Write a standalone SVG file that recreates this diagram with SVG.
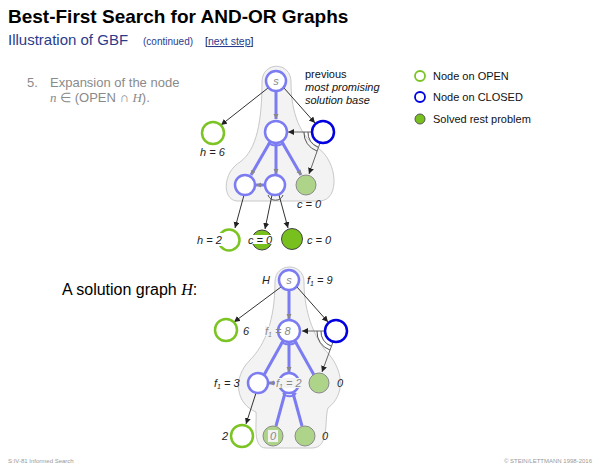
<svg xmlns="http://www.w3.org/2000/svg" width="600" height="467" viewBox="0 0 600 467">
<style>
text{font-family:"Liberation Sans",Arial,sans-serif}
.blob{fill:#f3f3f3;stroke:#c8c8c8;stroke-width:1}
.lb{fill:#fff;stroke:#7b7bf2;stroke-width:2.5}
.db{fill:#fff;stroke:#0000e0;stroke-width:2.5}
.op{fill:#fff;stroke:#7cc424;stroke-width:2.5}
.sl{fill:#aed48a;stroke:#8a8a8a;stroke-width:1}
.sf{fill:#78c01e;stroke:#444;stroke-width:1}
.be{stroke:#7b7bf2;stroke-width:3;fill:none}
.ba{stroke:#7b7bf2;stroke-width:3;fill:none;marker-end:url(#ga)}
.ta{stroke:#333;stroke-width:1;fill:none;marker-end:url(#ka)}
.tg{stroke:#666;stroke-width:1;fill:none;marker-end:url(#ka)}
.arc{stroke:#555;stroke-width:1;fill:none}
.lab{font-size:11px;font-style:italic;fill:#222}
.glab{font-size:11px;font-style:italic;fill:#888}
</style>
<defs>
<marker id="ka" markerUnits="userSpaceOnUse" markerWidth="8" markerHeight="8" refX="6" refY="3" orient="auto"><path d="M0,0 L6,3 L0,6 Z" fill="#222"/></marker>
<marker id="ga" markerUnits="userSpaceOnUse" markerWidth="8" markerHeight="8" refX="5" refY="2.5" orient="auto"><path d="M0,0 L5,2.5 L0,5 Z" fill="#888"/></marker>
</defs>

<!-- header -->
<text x="8" y="23" font-size="19" font-weight="bold" fill="#000">Best-First Search for AND-OR Graphs</text>
<text x="8" y="45" font-size="15" fill="#2b3b8c">Illustration of GBF</text>
<text x="143" y="45" font-size="10" fill="#2b3b8c">(continued)</text>
<text x="205" y="45" font-size="10.5" fill="#111">[<tspan text-decoration="underline" fill="#2b3b8c">next step</tspan>]</text>

<text x="27" y="87" font-size="13" fill="#8a8a8a">5.</text>
<text x="50" y="87" font-size="13" fill="#8a8a8a">Expansion of the node</text>
<text x="50" y="102" font-size="13" fill="#8a8a8a"><tspan font-family="Liberation Serif" font-style="italic">n</tspan> ∈ (OPEN ∩ <tspan font-family="Liberation Serif" font-style="italic">H</tspan>).</text>

<text x="62" y="295" font-size="16" fill="#000">A solution graph <tspan font-family="Liberation Serif" font-style="italic">H</tspan>:</text>

<!-- legend -->
<g id="legend">
<circle cx="420" cy="76" r="5" fill="#fff" stroke="#7cc424" stroke-width="1.8"/>
<text x="433" y="80" font-size="11" fill="#111">Node on OPEN</text>
<circle cx="420" cy="97" r="5" fill="#fff" stroke="#0000e0" stroke-width="1.8"/>
<text x="433" y="101" font-size="11" fill="#111">Node on CLOSED</text>
<circle cx="420" cy="119" r="5" fill="#78c01e" stroke="#555" stroke-width="1"/>
<text x="433" y="123" font-size="11" fill="#111">Solved rest problem</text>
</g>

<text x="305" y="78" font-size="11" fill="#111">previous</text>
<text x="305" y="91" font-size="11" font-style="italic" fill="#111">most promising</text>
<text x="305" y="104" font-size="11" font-style="italic" fill="#111">solution base</text>

<!-- blobs -->
<path class="blob" d="M262,82 C262,61 291,61 291,82 C291,105 296,133 318,148 C338,162 340,200 320,201 L238,201 C222,201 222,173 240,162 C257,150 262,120 262,82 Z"/>
<path class="blob" d="M275,282 C275,262 304,262 304,282 C304,305 310,330 325,350 C345,370 345,395 328,408 C324,420 330,448 312,448 L266,448 C252,448 257,422 256,412 C236,404 232,378 250,360 C265,345 275,320 275,282 Z"/>

<!-- connectors -->
<g id="connectors">
<line class="ba" x1="276" y1="91" x2="276" y2="119"/>
<line class="ta" x1="268" y1="88" x2="221" y2="125"/>
<line class="ta" x1="284" y1="88" x2="315" y2="123"/>
<line class="tg" x1="312" y1="132" x2="288" y2="132"/>
<line class="tg" x1="320" y1="143" x2="309" y2="174"/>
<path class="arc" d="M318,147 A15,15 0 0 1 308,132"/>
<path class="arc" d="M317,151 A19,19 0 0 1 304,132"/>
<line class="ba" x1="270" y1="142" x2="251" y2="175"/>
<line class="ba" x1="276" y1="143" x2="276" y2="174"/>
<line class="ba" x1="282" y1="142" x2="301" y2="175"/>
<path d="M284,143 A14,14 0 0 1 268,143" stroke="#7b7bf2" stroke-width="2" fill="none"/>
<line class="ba" x1="265" y1="185" x2="256" y2="185"/>
<line class="ta" x1="244" y1="195" x2="235" y2="228"/>
<line class="ta" x1="272" y1="195" x2="265" y2="229"/>
<line class="ta" x1="279" y1="195" x2="288" y2="228"/>
<path class="arc" d="M268,195 A8,8 0 0 0 283,195"/>
<line class="ba" x1="289" y1="290" x2="289" y2="319"/>
<line class="ta" x1="281" y1="287" x2="234" y2="322"/>
<line class="ta" x1="297" y1="287" x2="328" y2="322"/>
<line class="tg" x1="325" y1="331" x2="302" y2="331"/>
<line class="tg" x1="333" y1="342" x2="322" y2="372"/>
<path class="arc" d="M331,346 A15,15 0 0 1 321,331"/>
<path class="arc" d="M330,350 A19,19 0 0 1 317,331"/>
<line class="be" x1="283" y1="341" x2="264" y2="375"/>
<line class="ba" x1="289" y1="342" x2="289" y2="372"/>
<line class="be" x1="295" y1="341" x2="314" y2="375"/>
<path d="M297,342 A14,14 0 0 1 281,342" stroke="#7b7bf2" stroke-width="2" fill="none"/>
<line class="ba" x1="279" y1="383" x2="269" y2="383"/>
<line class="ta" x1="256" y1="393" x2="246" y2="424"/>
<line class="be" x1="285" y1="393" x2="276" y2="426"/>
<line class="be" x1="293" y1="393" x2="302" y2="426"/>
<path d="M283,393 A8,8 0 0 0 296,393" stroke="#7b7bf2" stroke-width="2" fill="none"/>
</g>

<!-- top graph nodes -->
<g id="t_s"><circle class="lb" cx="276" cy="81" r="10"/><text x="276" y="85" text-anchor="middle" class="glab">s</text></g>
<g id="t_m"><circle class="lb" cx="276" cy="132" r="11"/></g>
<g id="t_c"><circle class="db" cx="323" cy="132" r="11"/></g>
<g id="t_o"><circle class="op" cx="213" cy="133" r="11"/><text x="200" y="156" class="lab">h = 6</text></g>
<g id="t_l"><circle class="lb" cx="245" cy="185" r="10"/></g>
<g id="t_mm"><circle class="lb" cx="275" cy="185" r="10"/></g>
<g id="t_sv"><circle class="sl" cx="306" cy="185" r="10"/><text x="297" y="208" class="lab">c = 0</text></g>
<g id="t_h2"><circle class="op" cx="229" cy="240" r="10.5"/><rect x="197" y="233" width="28" height="13" fill="#fff"/><text x="197" y="244" class="lab">h = 2</text></g>
<g id="t_c0a"><circle class="sf" cx="262" cy="240" r="10"/><rect x="248" y="235" width="28" height="9" fill="#fff"/><text x="248" y="244" class="lab">c = 0</text></g>
<g id="t_c0b"><circle class="sf" cx="292" cy="239" r="10.5"/><text x="307" y="244" class="lab">c = 0</text></g>

<!-- lower graph nodes -->
<g id="b_s"><circle class="lb" cx="289" cy="280" r="10"/><text x="289" y="284" text-anchor="middle" class="glab">s</text><text x="262" y="284" class="lab">H</text><text x="307" y="284" class="lab">f<tspan font-size="7" dy="2">1</tspan><tspan dy="-2"> = 9</tspan></text></g>
<g id="b_m"><circle class="lb" cx="289" cy="331" r="11"/><rect x="265" y="326" width="12" height="10" fill="#f3f3f3"/><text x="265" y="335" class="glab">f<tspan font-size="7" dy="2">1</tspan><tspan dy="-2"> = 8</tspan></text></g>
<g id="b_c"><circle class="db" cx="336" cy="331" r="11"/></g>
<g id="b_o"><circle class="op" cx="226" cy="330" r="11"/><text x="243" y="335" class="lab">6</text></g>
<g id="b_l"><circle class="lb" cx="258" cy="383" r="10"/><text x="214" y="387" class="lab">f<tspan font-size="7" dy="2">1</tspan><tspan dy="-2"> = 3</tspan></text></g>
<g id="b_mm"><circle class="lb" cx="289" cy="383" r="10"/><rect x="275" y="378" width="26" height="10" fill="#f3f3f3"/><text x="276" y="387" class="glab">f<tspan font-size="7" dy="2">1</tspan><tspan dy="-2"> = 2</tspan></text></g>
<g id="b_sv"><circle class="sl" cx="319" cy="383" r="10"/><text x="337" y="387" class="lab">0</text></g>
<g id="b_o2"><circle class="op" cx="242" cy="436" r="11"/><text x="222" y="440" class="lab">2</text></g>
<g id="b_s0"><circle class="sl" cx="273" cy="436" r="10"/><rect x="268" y="430" width="10" height="12" fill="#f3f3f3"/><text x="273" y="440" text-anchor="middle" class="glab">0</text></g>
<g id="b_s1"><circle class="sl" cx="305" cy="436" r="10"/><text x="322" y="440" class="lab">0</text></g>

<!-- footer -->
<text x="8" y="463" font-size="6" fill="#999">S:IV-81    Informed Search</text>
<text x="592" y="463" font-size="6" fill="#999" text-anchor="end">© STEIN/LETTMANN 1998-2016</text>
</svg>
